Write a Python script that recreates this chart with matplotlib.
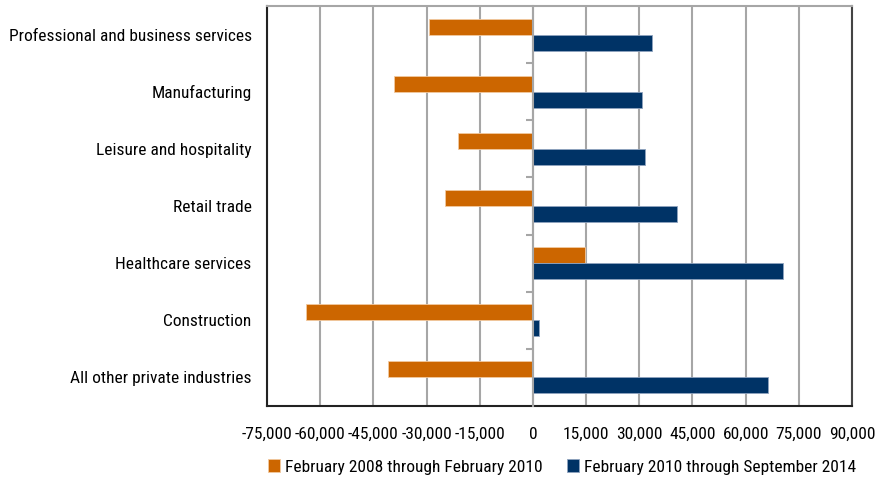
import numpy as np
import matplotlib.pyplot as plt
from matplotlib import font_manager

# ============================================================
# 데이터
# ============================================================
categories = [
    "Professional and business services",
    "Manufacturing",
    "Leisure and hospitality",
    "Retail trade",
    "Healthcare services",
    "Construction",
    "All other private industries",
]
series_names = [
    "February 2008 through February 2010",
    "February 2010 through September 2014",
]
change_2008_2010 = [-29200, -39100, -21000, -24900, 14600, -64000, -41000]
change_2010_2014 = [33600, 30900, 31700, 40700, 70600, 1600, 66400]

x_ticks = list(range(-75000, 90001, 15000))
x_tick_labels = [f"{v:,}" for v in x_ticks]

ORANGE = "#CC6600"
NAVY = "#003366"
GRID = "#A6A6A6"

# ============================================================
# 폰트 (좁은 글꼴이 있으면 사용)
# ============================================================
installed = {f.name for f in font_manager.fontManager.ttflist}
narrow = [f for f in ["Liberation Sans Narrow", "Arial Narrow", "Roboto Condensed",
                      "Noto Sans Condensed", "Open Sans Condensed"] if f in installed]
if narrow:
    FONT = [narrow[0], "DejaVu Sans"]
    FS = 12.5
else:
    FONT = ["Liberation Sans", "DejaVu Sans"]
    FS = 11
plt.rcParams["font.family"] = FONT

# ============================================================
# 시각화
# ============================================================
fig = plt.figure(figsize=(8.75, 4.8), dpi=100)
ax = fig.add_axes([267 / 875, 1 - 406 / 480, 585 / 875, 400 / 480])

n = len(categories)
y = np.arange(n)
h = 0.28

ax.barh(y - h / 2, change_2008_2010, height=h, color=ORANGE,
        edgecolor="#F2C9A0", linewidth=0.6, label=series_names[0], zorder=3)
ax.barh(y + h / 2, change_2010_2014, height=h, color=NAVY,
        edgecolor="#8FA3BF", linewidth=0.6, label=series_names[1], zorder=3)

ax.set_ylim(n - 0.5, -0.5)
ax.set_xlim(-75000, 90000)

ax.set_xticks(x_ticks)
ax.set_xticklabels(x_tick_labels, fontsize=FS)
ax.tick_params(axis="x", length=0, pad=15)

ax.set_yticks(y)
ax.set_yticklabels(categories, fontsize=FS)
ax.tick_params(axis="y", length=0, pad=11)

ax.grid(True, axis="x", color=GRID, linewidth=1.5, zorder=0)
ax.set_axisbelow(True)

for side in ["left", "bottom"]:
    ax.spines[side].set_color("#222222")
    ax.spines[side].set_linewidth(1.5)
ax.spines["top"].set_color("#A6A6A6")
ax.spines["top"].set_linewidth(1.5)
ax.spines["right"].set_color("#444444")
ax.spines["right"].set_linewidth(1.5)

# 0 기준선 위 카테고리 경계 눈금
ax2 = ax.twinx()
ax2.set_ylim(ax.get_ylim())
ax2.spines["left"].set_position(("data", 0))
ax2.spines["left"].set_color(GRID)
ax2.spines["left"].set_linewidth(1.5)
for side in ["right", "top", "bottom"]:
    ax2.spines[side].set_visible(False)
ax2.yaxis.set_ticks_position("left")
ax2.set_yticks(np.arange(-0.5, n, 1.0)[1:-1])
ax2.set_yticklabels([])
ax2.tick_params(axis="y", length=5, width=1.5, color=GRID, direction="out")

fig.legend(loc="center", bbox_to_anchor=(562 / 875, 1 - 467 / 480), ncol=2,
           frameon=False, prop={"size": FS},
           handlelength=0.7, handleheight=0.7, handletextpad=0.3,
           columnspacing=1.4, borderpad=0)

fig.savefig("out.png", dpi=100)
